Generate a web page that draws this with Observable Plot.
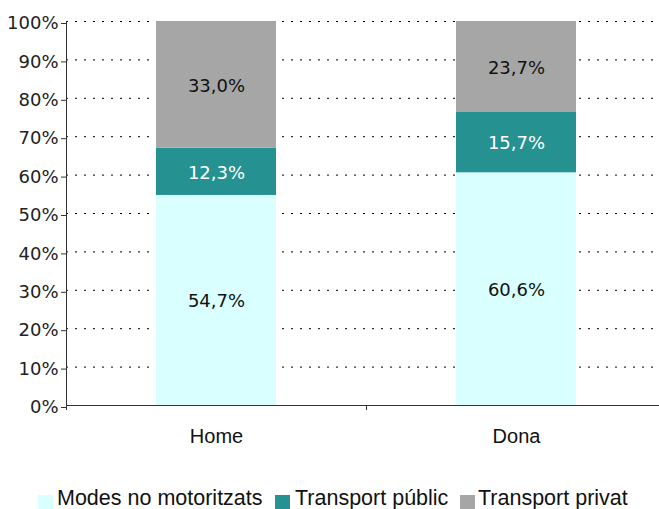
<!DOCTYPE html>
<html>
<head>
<meta charset="utf-8">
<script src="https://cdn.jsdelivr.net/npm/d3@7"></script>
<script src="https://cdn.jsdelivr.net/npm/@observablehq/plot@0.6"></script>
<style>
  html, body { margin: 0; padding: 0; background: #fff; }
  #wrap { width: 659px; position: relative; }
  #legend { position: relative; height: 39px; width: 659px; font-family: "Liberation Sans", Arial, sans-serif; font-size: 21.5px; color: #111; }
  .sw { position: absolute; top: 25px; width: 15px; height: 14px; }
  .lab { position: absolute; top: 18px; line-height: 21.5px; white-space: nowrap; }
</style>
</head>
<body>
<div id="wrap"><div id="chart"></div><div id="legend"></div></div>
<script>
const categories = ["Home", "Dona"];
const seriesNames = ["Modes no motoritzats", "Transport públic", "Transport privat"];
const nonMotorized = [54.7, 60.6];
const publicTransport = [12.3, 15.7];
const privateTransport = [33.0, 23.7];
const yTicks = [0, 10, 20, 30, 40, 50, 60, 70, 80, 90, 100];
const colors = ["#D9FFFF", "#269191", "#A6A6A6"];

const seriesValues = [nonMotorized, publicTransport, privateTransport];
const data = categories.flatMap((c, i) =>
  seriesValues.map((arr, j) => ({category: c, series: seriesNames[j], value: arr[i]}))
);
const fmt = v => v.toFixed(1).replace(".", ",") + "%";

const plot = Plot.plot({
  width: 659,
  height: 470,
  marginLeft: 66,
  marginRight: 0,
  marginTop: 21,
  marginBottom: 65,
  style: {background: "white", fontFamily: "DejaVu Sans", color: "#222", overflow: "visible"},
  x: {domain: categories, range: [66, 666], paddingInner: 0.6, paddingOuter: 0.3, axis: null, label: null},
  y: {domain: [0, 100], axis: null, label: null},
  color: {domain: seriesNames, range: colors},
  marks: [
    Plot.gridY(yTicks.filter(d => d > 0), {stroke: "#000", strokeOpacity: 1, strokeDasharray: "2,7"}),
    Plot.barY(data, {x: "category", y: "value", fill: "series", order: seriesNames}),
    Plot.text(data, Plot.stackY({
      x: "category", y: "value", z: "series", order: seriesNames,
      text: d => d.series !== seriesNames[1] ? fmt(d.value) : null,
      fill: "#111", fontSize: 18, fontFamily: "DejaVu Sans", dy: 1
    })),
    Plot.text(data, Plot.stackY({
      x: "category", y: "value", z: "series", order: seriesNames,
      text: d => d.series === seriesNames[1] ? fmt(d.value) : null,
      fill: "white", fontSize: 18, fontFamily: "DejaVu Sans", dy: 1
    })),
    Plot.ruleY([0], {stroke: "#333"}),
    Plot.frame({anchor: "left", stroke: "#333"}),
    Plot.axisY({ticks: yTicks, tickFormat: d => d + "%", tickSize: 5, tickPadding: 3, fontSize: 18, dy: 2, stroke: "#333", fill: "#222", label: null}),
    Plot.axisX({tickSize: 5, dx: -150, text: null, stroke: "#333", label: null}),
    Plot.axisX({tickSize: 0, tickPadding: 23, fontSize: 20, fontFamily: "Liberation Sans", fill: "#111", label: null})
  ]
});
document.getElementById("chart").appendChild(plot);

const legend = document.getElementById("legend");
const swatchLeft = [38, 275, 460];
const labelLeft = [57, 295, 478];
seriesNames.forEach((name, i) => {
  const sw = document.createElement("div");
  sw.className = "sw";
  sw.style.left = swatchLeft[i] + "px";
  sw.style.background = colors[i];
  legend.appendChild(sw);
  const lab = document.createElement("div");
  lab.className = "lab";
  lab.style.left = labelLeft[i] + "px";
  lab.textContent = name;
  legend.appendChild(lab);
});
</script>
</body>
</html>
